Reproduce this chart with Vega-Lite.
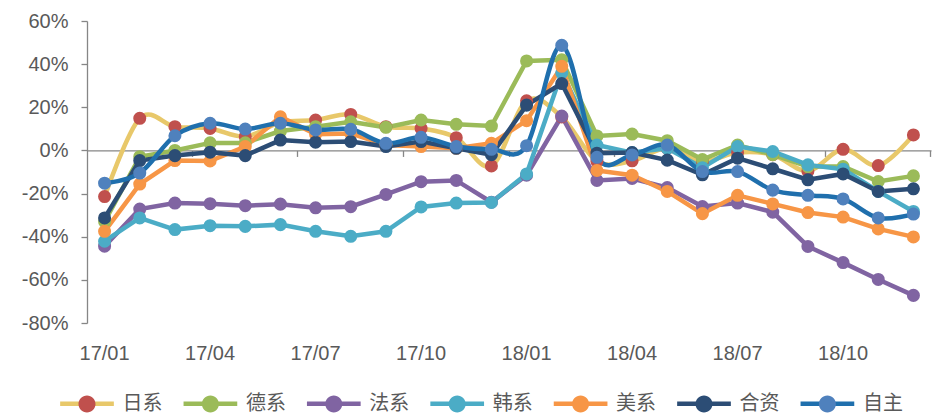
{
  "$schema": "https://vega.github.io/schema/vega-lite/v6.json",
  "width": 844,
  "height": 302,
  "autosize": "none",
  "padding": {"left": 87, "top": 21, "right": 5, "bottom": 91},
  "background": "white",
  "config": {"view": {"stroke": null}, "font": "Liberation Sans"},
  "data": {"values": [
    {"month":"17/01","series":"日系","value":-21.4},{"month":"17/02","series":"日系","value":14.9},{"month":"17/03","series":"日系","value":11.0},{"month":"17/04","series":"日系","value":10.2},{"month":"17/05","series":"日系","value":6.4},{"month":"17/06","series":"日系","value":13.0},{"month":"17/07","series":"日系","value":14.1},{"month":"17/08","series":"日系","value":16.7},{"month":"17/09","series":"日系","value":11.0},{"month":"17/10","series":"日系","value":10.2},{"month":"17/11","series":"日系","value":5.9},{"month":"17/12","series":"日系","value":-7.2},
    {"month":"18/01","series":"日系","value":23.0},{"month":"18/02","series":"日系","value":15.5},{"month":"18/03","series":"日系","value":-5.0},{"month":"18/04","series":"日系","value":-4.8},{"month":"18/05","series":"日系","value":1.0},{"month":"18/06","series":"日系","value":-5.0},{"month":"18/07","series":"日系","value":-1.0},{"month":"18/08","series":"日系","value":-2.0},{"month":"18/09","series":"日系","value":-9.5},{"month":"18/10","series":"日系","value":0.5},{"month":"18/11","series":"日系","value":-7.0},{"month":"18/12","series":"日系","value":7.2},
    {"month":"17/01","series":"德系","value":-33.0},{"month":"17/02","series":"德系","value":-2.9},{"month":"17/03","series":"德系","value":0.0},{"month":"17/04","series":"德系","value":3.5},{"month":"17/05","series":"德系","value":3.5},{"month":"17/06","series":"德系","value":9.0},{"month":"17/07","series":"德系","value":11.0},{"month":"17/08","series":"德系","value":13.3},{"month":"17/09","series":"德系","value":10.7},{"month":"17/10","series":"德系","value":14.1},{"month":"17/11","series":"德系","value":12.1},{"month":"17/12","series":"德系","value":11.3},
    {"month":"18/01","series":"德系","value":41.5},{"month":"18/02","series":"德系","value":42.0},{"month":"18/03","series":"德系","value":6.7},{"month":"18/04","series":"德系","value":7.6},{"month":"18/05","series":"德系","value":4.5},{"month":"18/06","series":"德系","value":-4.2},{"month":"18/07","series":"德系","value":2.5},{"month":"18/08","series":"德系","value":-2.0},{"month":"18/09","series":"德系","value":-7.5},{"month":"18/10","series":"德系","value":-7.5},{"month":"18/11","series":"德系","value":-14.4},{"month":"18/12","series":"德系","value":-11.8},
    {"month":"17/01","series":"法系","value":-44.4},{"month":"17/02","series":"法系","value":-27.2},{"month":"17/03","series":"法系","value":-24.4},{"month":"17/04","series":"法系","value":-24.7},{"month":"17/05","series":"法系","value":-25.6},{"month":"17/06","series":"法系","value":-24.9},{"month":"17/07","series":"法系","value":-26.6},{"month":"17/08","series":"法系","value":-26.1},{"month":"17/09","series":"法系","value":-20.4},{"month":"17/10","series":"法系","value":-14.5},{"month":"17/11","series":"法系","value":-13.9},{"month":"17/12","series":"法系","value":-24.0},
    {"month":"18/01","series":"法系","value":-11.5},{"month":"18/02","series":"法系","value":15.9},{"month":"18/03","series":"法系","value":-13.9},{"month":"18/04","series":"法系","value":-13.0},{"month":"18/05","series":"法系","value":-17.2},{"month":"18/06","series":"法系","value":-26.0},{"month":"18/07","series":"法系","value":-24.4},{"month":"18/08","series":"法系","value":-28.6},{"month":"18/09","series":"法系","value":-44.5},{"month":"18/10","series":"法系","value":-52.0},{"month":"18/11","series":"法系","value":-59.8},{"month":"18/12","series":"法系","value":-67.2},
    {"month":"17/01","series":"韩系","value":-42.1},{"month":"17/02","series":"韩系","value":-31.3},{"month":"17/03","series":"韩系","value":-36.7},{"month":"17/04","series":"韩系","value":-34.9},{"month":"17/05","series":"韩系","value":-35.2},{"month":"17/06","series":"韩系","value":-34.4},{"month":"17/07","series":"韩系","value":-37.5},{"month":"17/08","series":"韩系","value":-39.8},{"month":"17/09","series":"韩系","value":-37.5},{"month":"17/10","series":"韩系","value":-26.2},{"month":"17/11","series":"韩系","value":-24.4},{"month":"17/12","series":"韩系","value":-24.1},
    {"month":"18/01","series":"韩系","value":-10.9},{"month":"18/02","series":"韩系","value":36.0},{"month":"18/03","series":"韩系","value":2.5},{"month":"18/04","series":"韩系","value":-1.0},{"month":"18/05","series":"韩系","value":1.0},{"month":"18/06","series":"韩系","value":-8.0},{"month":"18/07","series":"韩系","value":1.8},{"month":"18/08","series":"韩系","value":-0.5},{"month":"18/09","series":"韩系","value":-6.7},{"month":"18/10","series":"韩系","value":-8.7},{"month":"18/11","series":"韩系","value":-19.0},{"month":"18/12","series":"韩系","value":-28.3},
    {"month":"17/01","series":"美系","value":-37.5},{"month":"17/02","series":"美系","value":-15.6},{"month":"17/03","series":"美系","value":-4.7},{"month":"17/04","series":"美系","value":-4.9},{"month":"17/05","series":"美系","value":1.8},{"month":"17/06","series":"美系","value":15.6},{"month":"17/07","series":"美系","value":7.5},{"month":"17/08","series":"美系","value":7.9},{"month":"17/09","series":"美系","value":2.5},{"month":"17/10","series":"美系","value":1.8},{"month":"17/11","series":"美系","value":1.0},{"month":"17/12","series":"美系","value":3.3},
    {"month":"18/01","series":"美系","value":13.8},{"month":"18/02","series":"美系","value":39.0},{"month":"18/03","series":"美系","value":-9.3},{"month":"18/04","series":"美系","value":-11.5},{"month":"18/05","series":"美系","value":-19.0},{"month":"18/06","series":"美系","value":-29.3},{"month":"18/07","series":"美系","value":-20.8},{"month":"18/08","series":"美系","value":-24.8},{"month":"18/09","series":"美系","value":-28.8},{"month":"18/10","series":"美系","value":-30.9},{"month":"18/11","series":"美系","value":-36.4},{"month":"18/12","series":"美系","value":-40.1},
    {"month":"17/01","series":"合资","value":-31.3},{"month":"17/02","series":"合资","value":-4.7},{"month":"17/03","series":"合资","value":-2.4},{"month":"17/04","series":"合资","value":-0.8},{"month":"17/05","series":"合资","value":-2.4},{"month":"17/06","series":"合资","value":4.8},{"month":"17/07","series":"合资","value":3.8},{"month":"17/08","series":"合资","value":4.1},{"month":"17/09","series":"合资","value":1.8},{"month":"17/10","series":"合资","value":4.1},{"month":"17/11","series":"合资","value":1.0},{"month":"17/12","series":"合资","value":-2.0},
    {"month":"18/01","series":"合资","value":21.0},{"month":"18/02","series":"合资","value":31.0},{"month":"18/03","series":"合资","value":-1.3},{"month":"18/04","series":"合资","value":-1.0},{"month":"18/05","series":"合资","value":-4.5},{"month":"18/06","series":"合资","value":-11.3},{"month":"18/07","series":"合资","value":-3.6},{"month":"18/08","series":"合资","value":-8.5},{"month":"18/09","series":"合资","value":-13.6},{"month":"18/10","series":"合资","value":-10.9},{"month":"18/11","series":"合资","value":-19.0},{"month":"18/12","series":"合资","value":-17.8},
    {"month":"17/01","series":"自主","value":-15.2},{"month":"17/02","series":"自主","value":-10.5},{"month":"17/03","series":"自主","value":6.8},{"month":"17/04","series":"自主","value":12.6},{"month":"17/05","series":"自主","value":9.9},{"month":"17/06","series":"自主","value":12.6},{"month":"17/07","series":"自主","value":9.5},{"month":"17/08","series":"自主","value":9.8},{"month":"17/09","series":"自主","value":3.3},{"month":"17/10","series":"自主","value":6.1},{"month":"17/11","series":"自主","value":1.8},{"month":"17/12","series":"自主","value":0.5},
    {"month":"18/01","series":"自主","value":2.2},{"month":"18/02","series":"自主","value":48.7},{"month":"18/03","series":"自主","value":-3.2},{"month":"18/04","series":"自主","value":-2.1},{"month":"18/05","series":"自主","value":2.5},{"month":"18/06","series":"自主","value":-9.8},{"month":"18/07","series":"自主","value":-9.8},{"month":"18/08","series":"自主","value":-18.4},{"month":"18/09","series":"自主","value":-20.8},{"month":"18/10","series":"自主","value":-22.5},{"month":"18/11","series":"自主","value":-31.3},{"month":"18/12","series":"自主","value":-29.5}
  ]},
  "encoding": {
    "y": {
      "field": "value",
      "type": "quantitative",
      "scale": {"domain": [-80, 60], "nice": false, "zero": false},
      "axis": {
        "title": null,
        "grid": false,
        "values": [-80, -60, -40, -20, 0, 20, 40, 60],
        "labelExpr": "datum.value + '%'",
        "domainColor": "#868686",
        "domainWidth": 1.3,
        "tickColor": "#868686",
        "tickWidth": 1.3,
        "tickSize": 6,
        "labelPadding": 13,
        "labelFont": "Liberation Sans",
        "labelFontSize": 20,
        "labelColor": "#595959"
      }
    }
  },
  "layer": [
    {
      "transform": [{"filter": "datum.series === '日系'"}],
      "mark": {"type": "line", "interpolate": "cardinal", "strokeWidth": 4.5},
      "encoding": {
        "x": {
          "field": "month", "type": "ordinal", "sort": null,
          "scale": {"type": "band", "paddingInner": 0, "paddingOuter": 0},
          "axis": {
            "orient": "bottom", "title": null, "domain": false, "ticks": false, "tickSize": 0,
            "values": ["17/01", "17/04", "17/07", "17/10", "18/01", "18/04", "18/07", "18/10"],
            "labelAngle": 0, "labelPadding": 20,
            "labelFont": "Liberation Sans", "labelFontSize": 20, "labelColor": "#595959"
          }
        },
        "color": {
          "field": "series", "type": "nominal",
          "scale": {"domain": ["日系", "德系", "法系", "韩系", "美系", "合资", "自主"],
                    "range": ["#E8C86A", "#9BBB59", "#8064A2", "#4BACC6", "#F79646", "#2C4D75", "#1F6FAD"]},
          "legend": {
            "orient": "none", "legendX": -29.5, "legendY": 353, "direction": "horizontal", "title": null,
            "padding": 0, "symbolType": "M-1,0L1,0", "symbolSize": 2884, "symbolStrokeWidth": 4.5,
            "labelFont": "Noto Sans CJK SC", "labelFontSize": 20, "labelColor": "transparent",
            "labelOffset": 6, "columnPadding": 11.4, "labelLimit": 200
          }
        }
      }
    },
    {
      "transform": [{"filter": "datum.series !== '日系' && datum.series !== '自主'"}],
      "mark": {"type": "line", "strokeWidth": 4.5},
      "encoding": {
        "x": {
          "field": "month", "type": "ordinal", "sort": null,
          "scale": {"type": "band", "paddingInner": 0, "paddingOuter": 0},
          "axis": {
            "orient": "bottom", "title": null, "labels": false, "offset": -172.57,
            "values": ["17/03", "17/06", "17/09", "17/12", "18/03", "18/06", "18/09", "18/12"],
            "bandPosition": 1,
            "domainColor": "#868686", "domainWidth": 1.3,
            "tickColor": "#868686", "tickWidth": 1.3, "tickSize": 6
          }
        },
        "color": {
          "field": "series", "type": "nominal",
          "scale": {"domain": ["日系", "德系", "法系", "韩系", "美系", "合资", "自主"],
                    "range": ["#E8C86A", "#9BBB59", "#8064A2", "#4BACC6", "#F79646", "#2C4D75", "#1F6FAD"]},
          "legend": {
            "orient": "none", "legendX": -29.5, "legendY": 353, "direction": "horizontal", "title": null,
            "padding": 0, "symbolType": "M-1,0L1,0", "symbolSize": 2884, "symbolStrokeWidth": 4.5,
            "labelFont": "Noto Sans CJK SC", "labelFontSize": 20, "labelColor": "transparent",
            "labelOffset": 6, "columnPadding": 11.4, "labelLimit": 200
          }
        }
      }
    },
    {
      "transform": [{"filter": "datum.series === '自主'"}],
      "mark": {"type": "line", "interpolate": "cardinal", "strokeWidth": 4.5},
      "encoding": {
        "x": {
          "field": "month", "type": "ordinal", "sort": null,
          "scale": {"type": "band", "paddingInner": 0, "paddingOuter": 0},
          "axis": null
        },
        "color": {
          "field": "series", "type": "nominal",
          "scale": {"domain": ["日系", "德系", "法系", "韩系", "美系", "合资", "自主"],
                    "range": ["#E8C86A", "#9BBB59", "#8064A2", "#4BACC6", "#F79646", "#2C4D75", "#1F6FAD"]},
          "legend": {
            "orient": "none", "legendX": -29.5, "legendY": 353, "direction": "horizontal", "title": null,
            "padding": 0, "symbolType": "M-1,0L1,0", "symbolSize": 2884, "symbolStrokeWidth": 4.5,
            "labelFont": "Noto Sans CJK SC", "labelFontSize": 20, "labelColor": "transparent",
            "labelOffset": 6, "columnPadding": 11.4, "labelLimit": 200
          }
        }
      }
    },
    {
      "mark": {"type": "point", "shape": "circle", "filled": true, "size": 170, "opacity": 1},
      "encoding": {
        "x": {
          "field": "month", "type": "ordinal", "sort": null,
          "scale": {"type": "band", "paddingInner": 0, "paddingOuter": 0},
          "axis": null
        },
        "fill": {
          "field": "series", "type": "nominal",
          "sort": ["日系", "德系", "法系", "韩系", "美系", "合资", "自主"],
          "scale": {"range": ["#C0504D", "#9BBB59", "#8064A2", "#4BACC6", "#F79646", "#2C4D75", "#4F81BD"]},
          "legend": {
            "orient": "none", "legendX": -29.5, "legendY": 353, "direction": "horizontal", "title": null,
            "padding": 0, "symbolType": "M-1,0L1,0M-0.317,0A0.317,0.317,0,1,1,0.317,0A0.317,0.317,0,1,1,-0.317,0Z",
            "symbolSize": 2884, "symbolStrokeWidth": 4.5, "symbolStrokeColor": "transparent", "symbolOpacity": 1,
            "labelFont": "Noto Sans CJK SC", "labelFontSize": 20, "labelColor": "#595959",
            "labelOffset": 6, "columnPadding": 11.4, "labelLimit": 200
          }
        }
      }
    }
  ],
  "resolve": {"axis": {"x": "independent"}}
}
